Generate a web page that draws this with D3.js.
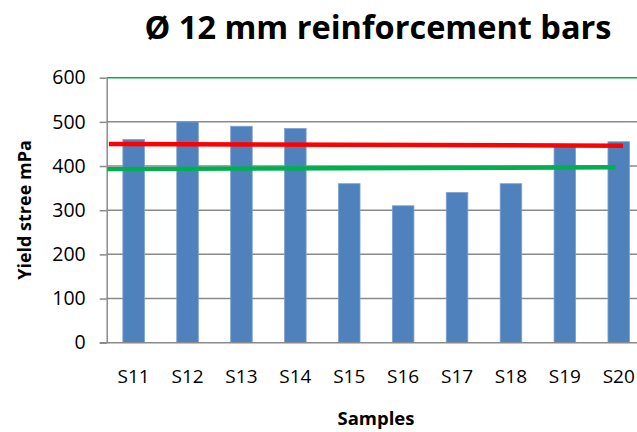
<!DOCTYPE html>
<html>
<head>
<meta charset="utf-8">
<script src="https://cdn.jsdelivr.net/npm/d3@7"></script>
<style>
  body { margin: 0; background: #fff; }
  svg { display: block; }
</style>
</head>
<body>
<script>
// Sample names and measured yield stress (MPa)
const samples = ["S11", "S12", "S13", "S14", "S15", "S16", "S17", "S18", "S19", "S20"];
const yieldStress = [460, 500, 490, 485, 360, 310, 340, 360, 448, 455];
const yTicks = [0, 100, 200, 300, 400, 500, 600];

// Reference lines: positions in sample-index units, values in MPa
const redLineIdx = [-0.46, 9.08];
const redLineVal = [450, 446];
const greenLineIdx = [-0.49, 8.94];
const greenLineVal = [393, 397];

const W = 637, H = 432;
const plot = { left: 106.7, right: 645.7, top: 77.7, bottom: 342.7 };
const font = "'Open Sans', 'DejaVu Sans', sans-serif";

const svg = d3.select("body").append("svg").attr("width", W).attr("height", H);

const x = d3.scaleBand().domain(samples).range([plot.left, plot.right])
  .paddingInner(0.6).paddingOuter(0.3);
const y = d3.scaleLinear().domain([0, 600]).range([plot.bottom, plot.top]);
const xIdx = d3.scaleLinear().domain([0, 1])
  .range([x(samples[0]) + x.bandwidth() / 2, x(samples[1]) + x.bandwidth() / 2]);

// Horizontal gridlines (top line green)
svg.append("g").selectAll("line").data(yTicks.filter(d => d > 0)).join("line")
  .attr("x1", plot.left).attr("x2", W)
  .attr("y1", d => y(d)).attr("y2", d => y(d))
  .attr("stroke", d => d === 600 ? "#00b050" : "#8a8a8a")
  .attr("stroke-width", 1.5);

// Y axis
const yAxis = svg.append("g").attr("transform", `translate(${plot.left},0)`)
  .call(d3.axisLeft(y).tickValues(yTicks).tickSize(7).tickPadding(14).tickSizeOuter(0));
yAxis.select(".domain").attr("stroke", "#8a8a8a").attr("stroke-width", 1.5);
yAxis.selectAll(".tick line").attr("stroke", "#8a8a8a").attr("stroke-width", 1.5);
yAxis.selectAll(".tick text").attr("font-family", font).attr("font-size", 19.5)
  .attr("fill", "#000");

// Bars
svg.append("g").selectAll("rect").data(samples).join("rect")
  .attr("x", d => x(d)).attr("width", x.bandwidth())
  .attr("y", (d, i) => y(yieldStress[i]))
  .attr("height", (d, i) => y(0) - y(yieldStress[i]))
  .attr("fill", "#4f81bd").attr("stroke", "#7da0cf").attr("stroke-width", 0.8);

// X axis
const xAxis = svg.append("g").attr("transform", `translate(0,${plot.bottom})`)
  .call(d3.axisBottom(x).tickSize(0).tickPadding(27).tickSizeOuter(0));
xAxis.select(".domain").remove();
svg.append("line").attr("x1", plot.left - 7).attr("x2", W)
  .attr("y1", plot.bottom).attr("y2", plot.bottom)
  .attr("stroke", "#8a8a8a").attr("stroke-width", 1.5);
xAxis.selectAll(".tick text").attr("font-family", font).attr("font-size", 19)
  .attr("fill", "#000");

// Reference lines
const line = d3.line().x(d => xIdx(d[0])).y(d => y(d[1]));
svg.append("path").datum(redLineIdx.map((v, i) => [v, redLineVal[i]]))
  .attr("d", line).attr("fill", "none").attr("stroke", "#ff0000").attr("stroke-width", 4.5);
svg.append("path").datum(greenLineIdx.map((v, i) => [v, greenLineVal[i]]))
  .attr("d", line).attr("fill", "none").attr("stroke", "#00b050").attr("stroke-width", 4.5);

// Titles
svg.append("text").attr("x", 378).attr("y", 39).attr("text-anchor", "middle")
  .attr("font-family", font).attr("font-weight", "bold").attr("font-size", 32.5)
  .text("Ø 12 mm reinforcement bars");
svg.append("text").attr("x", 376).attr("y", 425).attr("text-anchor", "middle")
  .attr("font-family", font).attr("font-weight", "bold").attr("font-size", 18.5)
  .text("Samples");
svg.append("text").attr("transform", "translate(31,210) rotate(-90)")
  .attr("text-anchor", "middle")
  .attr("font-family", font).attr("font-weight", "bold").attr("font-size", 18)
  .text("Yield stree mPa");
</script>
</body>
</html>
